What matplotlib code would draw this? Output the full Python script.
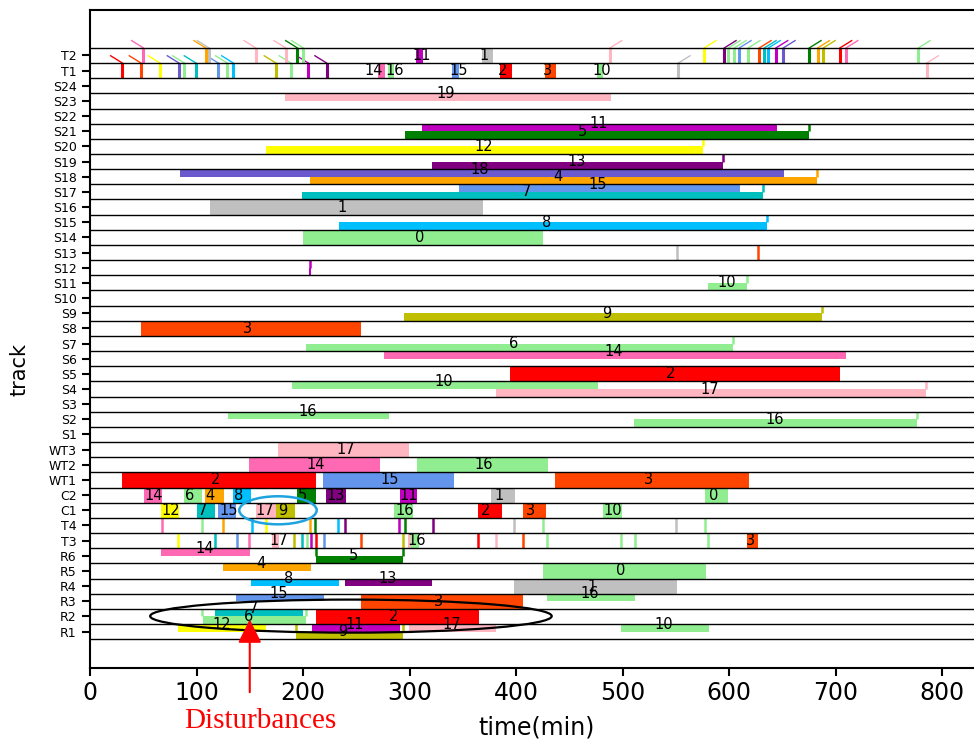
import matplotlib
matplotlib.use('Agg')
import matplotlib.pyplot as plt
from matplotlib.patches import Ellipse

# tracks from bottom to top
tracks = ['R1', 'R2', 'R3', 'R4', 'R5', 'R6', 'T3', 'T4', 'C1', 'C2',
          'WT1', 'WT2', 'WT3'] + ['S%d' % i for i in range(1, 25)] + ['T1', 'T2']

# one colour per job
job_colors = {0: 'lightgreen', 1: 'silver', 2: 'red', 3: 'orangered', 4: 'orange',
              5: 'green', 6: 'lightgreen', 7: 'c', 8: 'deepskyblue', 9: 'y',
              10: 'lightgreen', 11: 'm', 12: 'yellow', 13: 'purple', 14: 'hotpink',
              15: 'cornflowerblue', 16: 'lightgreen', 17: 'lightpink',
              18: 'slateblue', 19: 'lightpink'}

# bars: (start, end, job, part, label position); part = full / top / bot
R1_bars = [(82.6, 165.0, 12, 'top', 123.6), (193.4, 293.6, 9, 'bot', 237.3),
           (208.1, 291.0, 11, 'top', 248.8), (299.5, 380.9, 17, 'top', 339.6),
           (498.6, 580.9, 10, 'top', 538.3)]
R2_bars = [(117.4, 200.3, 7, 'top', 153.4), (106.4, 202.8, 6, 'bot', 148.7),
           (212.2, 365.3, 2, 'full', 284.8)]
R3_bars = [(137.1, 219.4, 15, 'top', 177.5), (254.5, 406.2, 3, 'full', 327.0),
           (429.4, 511.7, 16, 'top', 469.5)]
R4_bars = [(151.2, 233.8, 8, 'top', 186.2), (239.4, 320.8, 13, 'top', 279.5),
           (398.1, 550.9, 1, 'full', 471.0)]
R5_bars = [(124.9, 207.1, 4, 'top', 160.2), (425.4, 578.4, 0, 'full', 498.6)]
R6_bars = [(66.7, 150.2, 14, 'top', 107.4), (212.2, 294.2, 5, 'bot', 247.3)]
T3_bars = [(171.2, 177.8, 17, 'full', 177.2), (298.3, 301.4, 17, 'full', None),
           (301.4, 308.9, 16, 'full', 306.6), (617.2, 627.0, 3, 'full', 619.7)]
C1_bars = [(66.7, 83.6, 12, 'full', 75.7), (100.5, 117.0, 7, 'full', 105.5),
           (120.2, 136.8, 15, 'full', 129.9), (155.9, 174.6, 17, 'full', 164.3),
           (174.6, 192.2, 9, 'full', 180.6), (285.4, 302.9, 16, 'full', 295.0),
           (364.3, 386.5, 2, 'full', 371.8), (406.6, 427.9, 3, 'full', 414.0),
           (481.7, 499.2, 10, 'full', 490.5)]
C2_bars = [(51.0, 67.8, 14, 'full', 59.5), (88.3, 105.2, 6, 'full', 93.6),
           (108.0, 125.5, 4, 'full', 113.0), (134.6, 150.9, 8, 'full', 139.6),
           (194.4, 212.0, 5, 'full', 199.4), (221.9, 240.0, 13, 'full', 231.0),
           (291.0, 306.7, 11, 'full', 299.0), (376.5, 399.0, 1, 'full', 384.3),
           (577.5, 599.4, 0, 'full', 585.3)]
WT1_bars = [(30.0, 212.0, 2, 'full', 118.3), (218.8, 341.8, 15, 'full', 281.7),
            (436.6, 618.8, 3, 'full', 524.5)]
WT2_bars = [(149.3, 272.3, 14, 'full', 212.0), (307.0, 429.8, 16, 'full', 370.0)]
WT3_bars = [(176.5, 299.5, 17, 'full', 240.0)]
S2_bars = [(129.6, 280.8, 16, 'top', 204.0), (510.8, 776.2, 16, 'bot', 643.0)]
S4_bars = [(189.7, 477.0, 10, 'top', 331.8), (381.2, 784.6, 17, 'bot', 582.0)]
S5_bars = [(394.4, 704.2, 2, 'full', 545.5)]
S6_bars = [(276.0, 709.9, 14, 'top', 492.0)]
S7_bars = [(202.8, 603.8, 6, 'bot', 397.5)]
S8_bars = [(47.9, 254.5, 3, 'full', 148.0)]
S9_bars = [(294.8, 687.3, 9, 'bot', 485.0)]
S11_bars = [(580.3, 616.9, 10, 'bot', 597.8)]
S12_bars = [(205.6, 207.6, 11, 'bot', None)]
S14_bars = [(200.0, 425.0, 0, 'full', 310.0)]
S15_bars = [(233.8, 635.4, 8, 'bot', 428.8)]
S16_bars = [(112.7, 368.7, 1, 'full', 237.0)]
S17_bars = [(346.5, 610.3, 15, 'top', 476.7), (199.0, 632.0, 7, 'bot', 410.0)]
S18_bars = [(84.5, 651.3, 18, 'top', 366.0), (206.6, 682.9, 4, 'bot', 439.0)]
S19_bars = [(321.0, 594.0, 13, 'bot', 457.0)]
S20_bars = [(165.3, 575.3, 12, 'bot', 369.3)]
S21_bars = [(312.0, 645.0, 11, 'top', 478.0), (296.0, 675.0, 5, 'bot', 462.0)]
S23_bars = [(183.0, 489.0, 19, 'top', 334.0)]
T1_bars = [(270.7, 277.0, 14, 'full', 266.0), (279.5, 285.7, 16, 'full', 286.0),
           (340.0, 346.7, 15, 'full', 345.9), (385.0, 396.0, 2, 'full', 387.5),
           (427.2, 438.0, 3, 'full', 429.4), (476.4, 482.0, 10, 'full', 480.4)]
T2_bars = [(306.0, 313.0, 11, 'full', 311.0), (367.8, 378.0, 1, 'full', 370.0)]

bars = {'R1': R1_bars, 'R2': R2_bars, 'R3': R3_bars, 'R4': R4_bars, 'R5': R5_bars,
        'R6': R6_bars, 'T3': T3_bars, 'C1': C1_bars, 'C2': C2_bars,
        'WT1': WT1_bars, 'WT2': WT2_bars, 'WT3': WT3_bars, 'S2': S2_bars,
        'S4': S4_bars, 'S5': S5_bars, 'S6': S6_bars, 'S7': S7_bars, 'S8': S8_bars,
        'S9': S9_bars, 'S11': S11_bars, 'S12': S12_bars, 'S14': S14_bars,
        'S15': S15_bars, 'S16': S16_bars, 'S17': S17_bars, 'S18': S18_bars,
        'S19': S19_bars, 'S20': S20_bars, 'S21': S21_bars, 'S23': S23_bars,
        'T1': T1_bars, 'T2': T2_bars}

# thin full-height marks: (time, job)
T3_marks = [(82.9, 12), (117.4, 7), (137.7, 15), (149.6, 14), (191.9, 9), (199.0, 7),
            (203.4, 16), (207.5, 11), (212.2, 2), (219.4, 15), (254.5, 3), (294.2, 9),
            (364.6, 2), (381.2, 17), (406.3, 3), (429.4, 16), (498.2, 16),
            (511.7, 16), (580.6, 16)]
T4_marks = [(67.3, 14), (105.5, 16), (125.2, 4), (151.8, 8), (165.6, 12), (206.6, 4),
            (211.3, 5), (233.2, 8), (239.7, 13), (290.5, 11), (295.5, 5),
            (321.8, 13), (398.4, 1), (425.7, 16), (550.2, 1), (577.5, 16)]
S13_marks = [(551.5, 1), (627.5, 3)]
marks = {'T3': T3_marks, 'T4': T4_marks, 'S13': S13_marks}

# short marks in the upper half of a track (bar ends)
tick_tracks = ['S21', 'S20', 'S19', 'S18', 'S17', 'S15', 'S12', 'S11', 'S9', 'S7',
               'S4', 'S2', 'R6', 'R6', 'R2', 'R2', 'R1', 'R1']
tick_times = [675.0, 576.0, 594.0, 682.5, 632.0, 635.8, 207.0, 616.5, 687.0, 603.5,
              784.5, 776.5, 212.2, 294.2, 105.4, 202.4, 193.4, 293.6]
tick_jobs = [5, 12, 13, 4, 7, 8, 11, 10, 9, 6, 17, 16, 5, 5, 6, 6, 9, 9]

# flags on T1/T2: (time, job, direction)
T1_flags = [(30.4, 2, -1), (47.9, 3, -1), (65.7, 12, -1), (83.6, 18, -1),
            (88.6, 16, -1), (99.5, 7, -1), (120.5, 15, -1), (128.9, 16, -1),
            (134.6, 8, -1), (174.6, 9, -1), (188.7, 16, -1), (205.0, 11, -1),
            (222.2, 13, -1), (552.4, 1, 1), (785.6, 17, 1)]
T2_flags = [(50.1, 14, -1), (108.6, 4, -1), (111.7, 1, -1), (155.6, 17, -1),
            (183.7, 17, -1), (194.7, 5, -1), (200.3, 16, -1), (488.3, 17, 1),
            (576.8, 12, 1), (595.6, 13, 1), (599.4, 16, 1), (605.0, 16, 1),
            (609.7, 15, 1), (618.1, 16, 1), (628.5, 3, 1), (633.2, 7, 1),
            (637.0, 8, 1), (644.1, 11, 1), (651.0, 18, 1), (675.4, 5, 1),
            (683.3, 4, 1), (688.6, 9, 1), (704.2, 2, 1), (709.9, 14, 1),
            (777.8, 16, 1)]
flags = {'T1': T1_flags, 'T2': T2_flags}

fig = plt.figure(figsize=(9.74, 7.45), dpi=100)
ax = fig.add_axes([0.0924, 0.1034, 0.9076, 0.8832])

# bars and their job numbers
for name, blist in bars.items():
    k = tracks.index(name)
    for start, end, job, part, lt in blist:
        if part == 'full':
            yc, h = k, 1.0
        elif part == 'top':
            yc, h = k + 0.25, 0.5
        else:
            yc, h = k - 0.25, 0.5
        ax.barh(yc, end - start, left=start, height=h, color=job_colors[job],
                linewidth=0, zorder=2)
        if lt is not None:
            ax.text(lt, yc - h / 2 + 0.5, str(job), ha='center', va='center',
                    fontsize=10.5, zorder=6)

for name, mlist in marks.items():
    k = tracks.index(name)
    for t, job in mlist:
        ax.vlines(t, k - 0.5, k + 0.5, colors=job_colors[job], lw=1.8, zorder=2.5)

for name, t, job in zip(tick_tracks, tick_times, tick_jobs):
    k = tracks.index(name)
    ax.vlines(t, k, k + 0.5, colors=job_colors[job], lw=1.8, zorder=2.5)

for name, flist in flags.items():
    k = tracks.index(name)
    for t, job, d in flist:
        ax.vlines(t, k - 0.5, k + 0.5, colors=job_colors[job], lw=2.2, zorder=2.5)
        ax.plot([t, t + d * 11], [k + 0.5, k + 0.98], color=job_colors[job],
                lw=1.0, zorder=2.5)

# track separators
for k in range(-1, len(tracks)):
    ax.axhline(k + 0.5, color='black', lw=1.0, zorder=3)

# highlighted regions
ax.add_patch(Ellipse((245, 1.02), 377, 2.18, fill=False, ec='black', lw=1.6, zorder=7))
ax.add_patch(Ellipse((176.5, 8.0), 72.7, 1.85, fill=False, ec='#1ea3e0', lw=1.8,
                     zorder=7))

ax.annotate('', xy=(150, 0.8), xytext=(150, -4.0),
            arrowprops=dict(arrowstyle='-|>,head_length=0.4,head_width=0.2',
                            color='red', lw=1.5, mutation_scale=36,
                            shrinkA=0, shrinkB=0),
            annotation_clip=False, zorder=10)
fig.text(260 / 974, 1 - 721 / 745, 'Disturbances', color='red',
         family='Liberation Serif', fontsize=21, ha='center', va='center')

ax.set_xlim(0, 830)
ax.set_ylim(-2.4, 41.0)
ax.set_xticks(range(0, 801, 100))
ax.set_yticks(range(len(tracks)))
ax.set_yticklabels(tracks)
ax.tick_params(axis='y', labelsize=9, width=1.5, length=6)
ax.tick_params(axis='x', labelsize=17, width=1.5, length=6)
for side in ['left', 'bottom', 'top']:
    ax.spines[side].set_linewidth(1.5)
ax.spines['right'].set_visible(False)

ax.set_xlabel('time(min)', fontsize=17)
ax.set_ylabel('track', fontsize=15)
ax.xaxis.set_label_coords(0.505, -0.073)
ax.yaxis.set_label_coords(-0.068, 0.453)

fig.savefig('out.png', dpi=100)
